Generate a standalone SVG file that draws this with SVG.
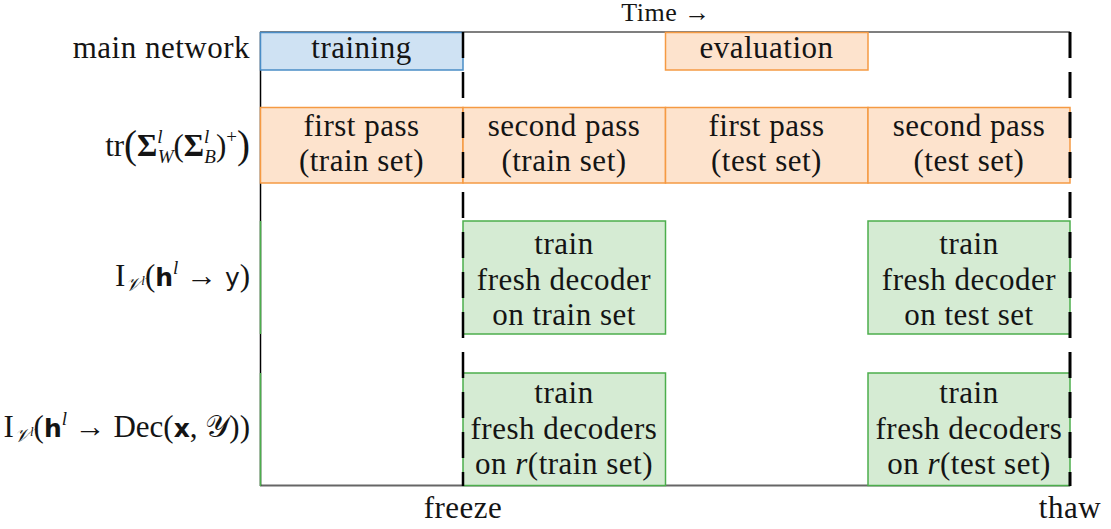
<svg xmlns="http://www.w3.org/2000/svg" width="1111" height="529" viewBox="0 0 1111 529">
  <style>
    .t { font-family: "Liberation Serif", "DejaVu Serif", serif; font-size: 31px; letter-spacing: 0.5px; fill: #141414; }
    .c { text-anchor: middle; }
    .e { text-anchor: end; }
    .m { letter-spacing: 0; }
    .s { font-size: 19px; letter-spacing: 0; }
    .it { font-style: italic; }
    .sans { font-family: "DejaVu Sans", "Liberation Sans", sans-serif; font-size: 25px; }
    .blue { fill: #cfe2f3; stroke: #4a8dc6; stroke-width: 1.5; }
    .orange { fill: #fde3cd; stroke: #f59a43; stroke-width: 1.5; }
    .green { fill: #d5ebd3; stroke: #4cae4c; stroke-width: 1.5; }
    .dash { stroke: #000; stroke-dasharray: 26 14; fill: none; }
  </style>

  <rect width="1111" height="529" fill="#fff"/>

  <!-- timeline frame -->
  <g id="frame" fill="none">
    <line x1="260" y1="32" x2="1070" y2="32" stroke="#555" stroke-width="1.5"/>
    <line x1="260" y1="485.5" x2="1070" y2="485.5" stroke="#666" stroke-width="1.8"/>
    <line x1="260.5" y1="32" x2="260.5" y2="486" stroke="#000" stroke-width="1.5"/>
    <line x1="260.5" y1="221" x2="260.5" y2="334" stroke="#4cae4c" stroke-width="1.5"/>
    <line x1="260.5" y1="373" x2="260.5" y2="486" stroke="#4cae4c" stroke-width="1.5"/>
  </g>

  <text class="t c" x="666" y="21" style="font-size:26px">Time →</text>

  <!-- row labels -->
  <g id="label-main">
    <text class="t e" x="250" y="58">main network</text>
  </g>
  <g id="label-trace">
    <text class="t e m" x="250" y="156" font-size="33">tr<tspan font-size="39" dy="2">(</tspan><tspan font-weight="bold" dy="-2">Σ</tspan><tspan class="s it" font-size="20" dy="-13">l</tspan><tspan class="s it" font-size="20" dx="-5" dy="20">W</tspan><tspan dy="-7">(</tspan><tspan font-weight="bold">Σ</tspan><tspan class="s it" font-size="20" dy="-13">l</tspan><tspan class="s it" font-size="20" dx="-5" dy="20">B</tspan><tspan dy="-7">)</tspan><tspan class="s" font-size="20" dy="-13">+</tspan><tspan font-size="39" dy="15">)</tspan></text>
  </g>
  <g id="label-vinfo-y">
    <text class="t e m" x="250" y="286">I<tspan class="s it" font-size="21" dy="5">𝒱</tspan><tspan class="it" font-size="13" dy="-6">l</tspan><tspan dy="1">(</tspan><tspan class="sans" font-weight="bold">h</tspan><tspan class="s it" dy="-12">l</tspan><tspan dy="12"> → </tspan><tspan class="sans">y</tspan>)</text>
  </g>
  <g id="label-vinfo-dec">
    <text class="t e m" x="250" y="437" font-size="30">I<tspan class="s it" font-size="21" dy="5">𝒱</tspan><tspan class="it" font-size="13" dy="-6">l</tspan><tspan dy="1">(</tspan><tspan class="sans" font-weight="bold">h</tspan><tspan class="s it" dy="-12">l</tspan><tspan dy="12"> → Dec(</tspan><tspan class="sans" font-weight="bold">x</tspan>, <tspan>𝒴</tspan>))</text>
  </g>

  <!-- main network row -->
  <g id="training">
    <rect class="blue" x="260.5" y="32.5" width="202.5" height="37.5"/>
    <text class="t c" x="361.5" y="58">training</text>
  </g>
  <g id="evaluation">
    <rect class="orange" x="665.5" y="32.5" width="202.5" height="37.5"/>
    <text class="t c" x="766.5" y="58">evaluation</text>
  </g>

  <!-- trace ratio row -->
  <g id="pass1-train">
    <rect class="orange" x="260.5" y="107.5" width="202.5" height="75.5"/>
    <text class="t c" x="361.5" y="136">first pass<tspan x="361.5" dy="35">(train set)</tspan></text>
  </g>
  <g id="pass2-train">
    <rect class="orange" x="463" y="107.5" width="202.5" height="75.5"/>
    <text class="t c" x="564" y="136">second pass<tspan x="564" dy="35">(train set)</tspan></text>
  </g>
  <g id="pass1-test">
    <rect class="orange" x="665.5" y="107.5" width="202.5" height="75.5"/>
    <text class="t c" x="766.5" y="136">first pass<tspan x="766.5" dy="35">(test set)</tspan></text>
  </g>
  <g id="pass2-test">
    <rect class="orange" x="868" y="107.5" width="202" height="75.5"/>
    <text class="t c" x="969" y="136">second pass<tspan x="969" dy="35">(test set)</tspan></text>
  </g>

  <!-- label decoding row -->
  <g id="decoder-train">
    <rect class="green" x="463" y="221" width="202.5" height="113"/>
    <text class="t c" x="564" y="254">train<tspan x="564" dy="35.5">fresh decoder</tspan><tspan x="564" dy="35.5">on train set</tspan></text>
  </g>
  <g id="decoder-test">
    <rect class="green" x="868" y="221" width="202" height="113"/>
    <text class="t c" x="969" y="254">train<tspan x="969" dy="35.5">fresh decoder</tspan><tspan x="969" dy="35.5">on test set</tspan></text>
  </g>

  <!-- input decoding row -->
  <g id="decoders-train">
    <rect class="green" x="463" y="373" width="202.5" height="112.5"/>
    <text class="t c" x="564" y="403">train<tspan x="564" dy="35.5">fresh decoders</tspan><tspan x="564" dy="35.5">on <tspan class="it">r</tspan>(train set)</tspan></text>
  </g>
  <g id="decoders-test">
    <rect class="green" x="868" y="373" width="202" height="112.5"/>
    <text class="t c" x="969" y="403">train<tspan x="969" dy="35.5">fresh decoders</tspan><tspan x="969" dy="35.5">on <tspan class="it">r</tspan>(test set)</tspan></text>
  </g>

  <!-- freeze / thaw markers -->
  <g id="markers">
    <line class="dash" x1="463" y1="32" x2="463" y2="486" stroke-width="2.5"/>
    <line class="dash" x1="1070" y1="32" x2="1070" y2="486" stroke-width="3"/>
    <text class="t c" x="463" y="518">freeze</text>
    <text class="t c" x="1070" y="518">thaw</text>
  </g>
</svg>
